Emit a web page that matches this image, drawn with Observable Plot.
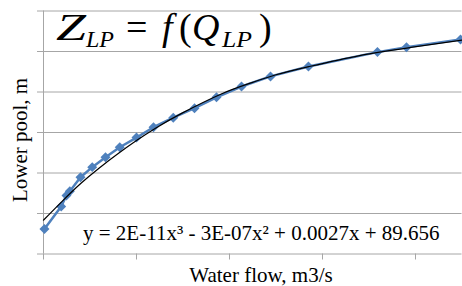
<!DOCTYPE html>
<html>
<head>
<meta charset="utf-8">
<script src="https://cdn.jsdelivr.net/npm/d3@7"></script>
<script src="https://cdn.jsdelivr.net/npm/@observablehq/plot@0.6"></script>
<style>
  html, body { margin: 0; padding: 0; background: white; }
  #chart svg { display: block; }
</style>
</head>
<body>
<div id="chart"></div>
<script>
// Data (water flow m3/s, lower pool level m)
const flow  = [10, 190, 247, 283, 398, 524, 667, 820, 1000, 1183, 1395, 1624, 1860, 2129, 2441, 2849, 3591, 3903, 4484];
const level = [89.24, 90.35, 90.89, 91.10, 91.79, 92.29, 92.78, 93.27, 93.75, 94.26, 94.73, 95.20, 95.74, 96.27, 96.77, 97.26, 97.97, 98.21, 98.59];

// Trendline as drawn in the picture
const trendFlow  = [0, 200, 400, 600, 800, 1000, 1200, 1500, 1900, 2200, 2500, 2850, 3400, 3950, 4500];
const trendLevel = [89.67, 90.6, 91.48, 92.25, 92.95, 93.6, 94.2, 94.98, 95.88, 96.4, 96.85, 97.25, 97.8, 98.2, 98.56];

const xTicks = [0, 1000, 2000, 3000, 4000];
const yTicks = [88, 90, 92, 94, 96, 98, 100];

const yLabel = "Lower pool, m";
const xLabel = "Water flow, m3/s";
const equation = "y = 2E-11x\u00B3 - 3E-07x\u00B2 + 0.0027x + 89.656";

const points = flow.map((f, i) => ({flow: f, level: level[i]}));
const trend = trendFlow.map((f, i) => ({flow: f, level: trendLevel[i]}));

const grid = "#a6a6a6";
const blue = "#4F81BD";

const chart = Plot.plot({
  width: 462,
  height: 286,
  marginLeft: 43,
  marginRight: 0.5,
  marginTop: 10.5,
  marginBottom: 32.5,
  x: {domain: [0, 4500]},
  y: {domain: [88, 100]},
  style: {background: "white", fontFamily: "Liberation Serif"},
  marks: [
    Plot.ruleY(yTicks.slice(1), {stroke: grid, strokeWidth: 1}),
    Plot.axisY({ticks: yTicks, tickSize: 6, tickFormat: () => "", label: null, stroke: grid}),
    Plot.axisX({ticks: xTicks, tickSize: 6, tickFormat: () => "", label: null, stroke: grid}),
    Plot.ruleX([0], {stroke: grid}),
    Plot.ruleY([88], {stroke: grid}),
    Plot.line(points, {x: "flow", y: "level", stroke: blue, strokeWidth: 2.5}),
    Plot.dot(points, {x: "flow", y: "level", symbol: "diamond2", fill: blue, stroke: "none", r: 4.5}),
    Plot.line(trend, {x: "flow", y: "level", curve: "natural", stroke: "black", strokeWidth: 1.2})
  ]
});

document.getElementById("chart").appendChild(chart);

const svg = d3.select(chart);
const serif = "Liberation Serif";

// Equation
svg.append("text")
  .attr("x", 83).attr("y", 240)
  .attr("text-anchor", "start")
  .attr("font-family", serif).attr("font-size", 21)
  .attr("fill", "black")
  .text(equation);

// Axis titles
svg.append("text")
  .attr("x", 261).attr("y", 282)
  .attr("text-anchor", "middle")
  .attr("font-family", serif).attr("font-size", 21)
  .attr("fill", "black")
  .text(xLabel);

svg.append("text")
  .attr("transform", "translate(27,140) rotate(-90)")
  .attr("text-anchor", "middle")
  .attr("font-family", serif).attr("font-size", 21)
  .attr("fill", "black")
  .text(yLabel);

// Title Z_LP = f(Q_LP)
const pieces = [
  {t: "Z",  x: 56,  y: 40, s: 38, it: true,  w: 30},
  {t: "LP", x: 86,  y: 47, s: 23, it: true,  w: 28},
  {t: "=",  x: 126, y: 40, s: 38, it: false, w: null},
  {t: "f",  x: 162, y: 40, s: 38, it: true,  w: null},
  {t: "(",  x: 179, y: 40, s: 38, it: false, w: null},
  {t: "Q",  x: 192, y: 40, s: 38, it: true,  w: null},
  {t: "LP", x: 222, y: 47, s: 23, it: true,  w: 30},
  {t: ")",  x: 259, y: 40, s: 38, it: false, w: null}
];
const title = svg.append("g").attr("fill", "black");
for (const p of pieces) {
  const t = title.append("text")
    .attr("x", p.x).attr("y", p.y)
    .attr("text-anchor", "start")
    .attr("font-family", serif)
    .attr("font-style", p.it ? "italic" : "normal")
    .attr("font-size", p.s)
    .text(p.t);
  if (p.w) t.attr("textLength", p.w).attr("lengthAdjust", "spacingAndGlyphs");
}
</script>
</body>
</html>
